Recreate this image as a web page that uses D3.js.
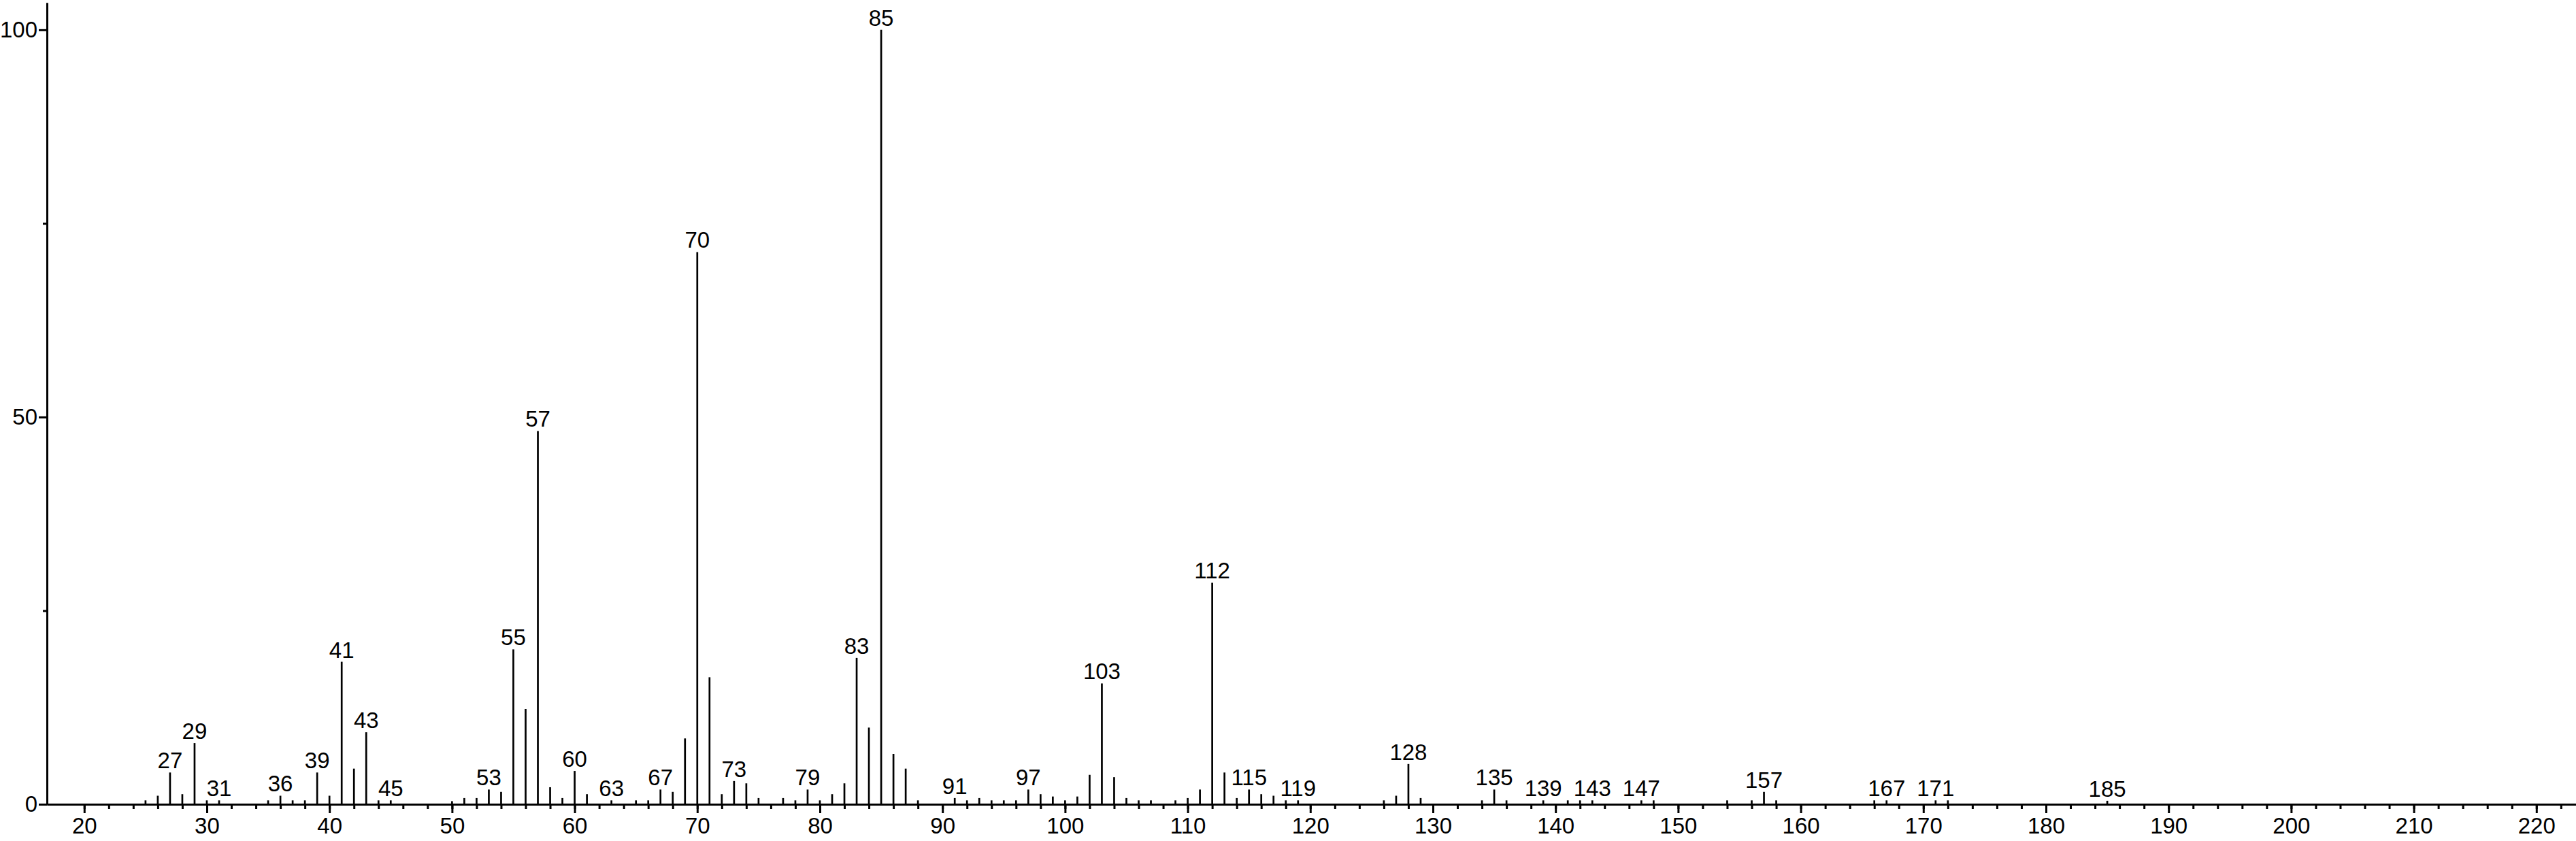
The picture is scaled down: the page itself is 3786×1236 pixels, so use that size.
<!DOCTYPE html>
<html>
<head>
<meta charset="utf-8">
<script src="https://cdn.jsdelivr.net/npm/d3@7"></script>
<style>
  html, body { margin: 0; padding: 0; background: #ffffff; }
  svg { display: block; }
</style>
</head>
<body>
<script>
// ---- Data (m/z, relative intensity %) ----
const mz = [25, 26, 27, 28, 29, 30, 31, 35, 36, 37, 38, 39, 40, 41, 42, 43, 44, 45,
            50, 51, 52, 53, 54, 55, 56, 57, 58, 59, 60, 61, 63, 65, 66, 67, 68, 69,
            70, 71, 72, 73, 74, 75, 77, 78, 79, 80, 81, 82, 83, 84, 85, 86, 87, 88,
            91, 92, 93, 94, 95, 96, 97, 98, 99, 100, 101, 102, 103, 104, 105, 106, 107,
            109, 110, 111, 112, 113, 114, 115, 116, 117, 118, 119,
            126, 127, 128, 129, 134, 135, 136, 139, 141, 142, 143, 147, 148,
            154, 156, 157, 158, 166, 167, 171, 172, 185];
const intensity = [0.5, 1.1, 4.1, 1.3, 7.9, 0.5, 0.5, 0.5, 1.1, 0.5, 0.5, 4.1, 1.1, 18.4, 4.6, 9.3, 0.5, 0.5,
            0.4, 0.8, 0.8, 1.9, 1.6, 20.0, 12.3, 48.2, 2.2, 0.8, 4.3, 1.3, 0.5, 0.5, 0.5, 1.9, 1.6, 8.5,
            71.3, 16.4, 1.3, 3.0, 2.7, 0.8, 0.8, 0.5, 1.9, 0.5, 1.3, 2.7, 18.9, 9.9, 100, 6.5, 4.6, 0.5,
            0.8, 0.5, 0.8, 0.5, 0.5, 0.5, 1.9, 1.3, 1.0, 0.5, 1.0, 3.8, 15.6, 3.5, 0.8, 0.5, 0.5,
            0.5, 0.8, 1.9, 28.6, 4.1, 0.8, 1.9, 1.3, 1.1, 0.5, 0.5,
            0.5, 1.1, 5.2, 0.8, 0.5, 1.9, 0.5, 0.5, 0.5, 0.5, 0.5, 0.5, 0.5,
            0.5, 0.5, 1.6, 0.5, 0.5, 0.5, 0.5, 0.5, 0.45];
const labeledPeaks = [27, 29, 31, 36, 39, 41, 43, 45, 53, 55, 57, 60, 63, 67, 70, 73, 79, 83, 85,
                      91, 97, 103, 112, 115, 119, 128, 135, 139, 143, 147, 157, 167, 171, 185];
const xTickLabels = [20, 30, 40, 50, 60, 70, 80, 90, 100, 110, 120, 130, 140, 150, 160, 170, 180, 190, 200, 210, 220];
const yTickLabels = [0, 50, 100];
const yMinorTicks = [25, 75];

// ---- Layout ----
const W = 3786, H = 1236;
const FONT = "'Liberation Sans', Arial, Helvetica, sans-serif";
const FS = 33;

const svg = d3.select("body").append("svg")
  .attr("width", W).attr("height", H)
  .attr("viewBox", `0 0 ${W} ${H}`);

const x = d3.scaleLinear().domain([16.96, 223.23]).range([69, 3786]);
const y = d3.scaleLinear().domain([0, 103.5]).range([1182, 4]);

const peaks = mz.map((m, i) => ({ m, v: intensity[i] }));

// ---- Peaks ----
svg.append("g").selectAll("line").data(peaks).join("line")
  .attr("x1", d => x(d.m)).attr("x2", d => x(d.m))
  .attr("y1", y(0)).attr("y2", d => y(d.v))
  .attr("stroke", "#000").attr("stroke-width", 2.7);

// ---- Peak labels ----
svg.append("g").selectAll("text").data(peaks.filter(d => labeledPeaks.includes(d.m))).join("text")
  .attr("x", d => x(d.m)).attr("y", d => y(d.v) - 6)
  .attr("text-anchor", "middle")
  .attr("font-family", FONT).attr("font-size", FS).attr("fill", "#000")
  .text(d => d.m);

function styleAxis(g) {
  g.attr("font-family", FONT).attr("font-size", FS);
  g.selectAll("path.domain").attr("stroke", "#000").attr("stroke-width", 3);
  g.selectAll(".tick line").attr("stroke", "#000").attr("stroke-width", 3);
  g.selectAll(".tick text").attr("fill", "#000");
}

// ---- X axis: minor ticks ----
svg.append("g").attr("transform", `translate(0,${y(0)})`)
  .call(d3.axisBottom(x).tickValues(d3.range(20, 223, 2)).tickSize(7).tickSizeOuter(0).tickFormat(""))
  .call(styleAxis);
// ---- X axis: major ticks with labels ----
svg.append("g").attr("transform", `translate(0,${y(0)})`)
  .call(d3.axisBottom(x).tickValues(xTickLabels).tickSize(13).tickSizeOuter(0).tickPadding(7))
  .call(styleAxis);

// ---- Y axis ----
svg.append("g").attr("transform", `translate(${x.range()[0]},0)`)
  .call(d3.axisLeft(y).tickValues(yMinorTicks).tickSize(6).tickSizeOuter(0).tickFormat(""))
  .call(styleAxis);
svg.append("g").attr("transform", `translate(${x.range()[0]},0)`)
  .call(d3.axisLeft(y).tickValues(yTickLabels).tickSize(12).tickSizeOuter(0).tickPadding(2))
  .call(styleAxis);
</script>
</body>
</html>
